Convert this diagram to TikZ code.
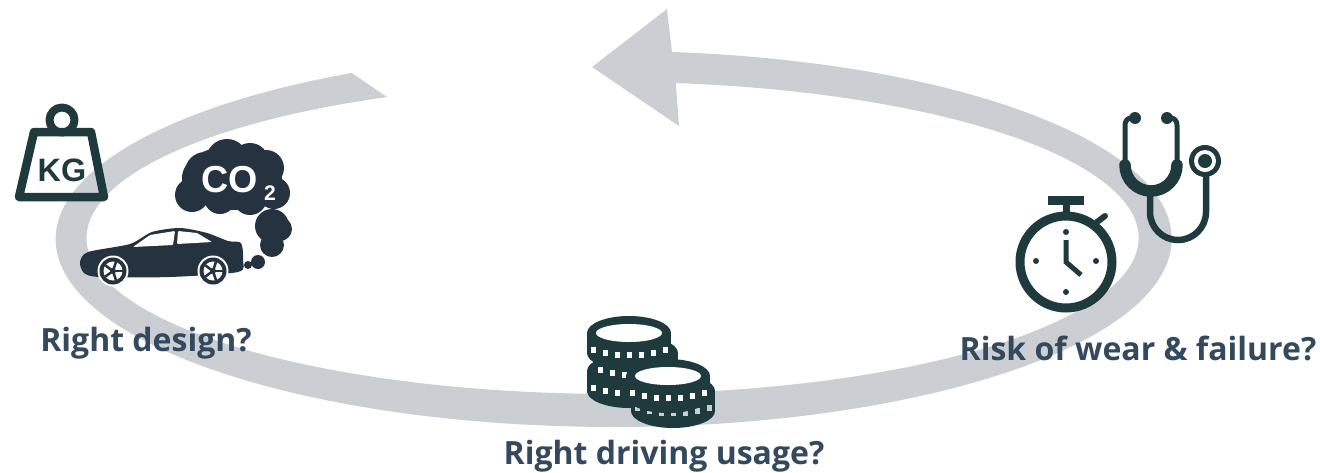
\documentclass[tikz,border=0pt]{standalone}
\usepackage{fontspec}
\setmainfont{Open Sans}
\newfontfamily\iconfont{Liberation Sans}
\definecolor{ringgray}{HTML}{CBCFD4}
\definecolor{icondark}{HTML}{1F3A3D}
\definecolor{cardark}{HTML}{25323F}
\definecolor{labelblue}{HTML}{34495E}
\begin{document}
\begin{tikzpicture}[x=0.01cm, y=-0.01cm,
    label/.style={text=labelblue, font=\fontsize{9.1}{11}\selectfont\bfseries, inner sep=0pt},
    iconline/.style={draw=icondark, line width=#1, line cap=round, line join=round},
    spoke/.style={draw=cardark, line width=0.025cm},
  ]
  \useasboundingbox (0,0) rectangle (1320,472);
  \fill[ringgray] (672,52) arc[start angle=-84, end angle=242, x radius=558, y radius=188]
    -- (387,97) arc[start angle=244.6, end angle=-83.1, x radius=526, y radius=156]
    -- (679,126) -- (592,67) -- (667,9) -- cycle;

  \draw[iconline=0.085cm] (34,132) -- (91,132) -- (104,197) -- (19,197) -- cycle;
  \draw[iconline=0.08cm] (62,120) circle[radius=12.5];
  \node[font=\iconfont\fontsize{9.2}{10}\selectfont\bfseries, text=icondark, inner sep=0pt] (kg) at (62,170) {KG};

  \fill[cardark] (232,178) ellipse[x radius=50, y radius=32]
    (192,195) circle[radius=17] (205,172) circle[radius=20] (227,160) circle[radius=21]
    (250,162) circle[radius=19] (266,168) circle[radius=18] (274,193) circle[radius=16]
    (250,198) circle[radius=17] (220,198) circle[radius=16];
  \node[font=\iconfont\fontsize{10.7}{12}\selectfont\bfseries, text=white, inner sep=0pt] (co) at (230,180) {CO};
  \node[font=\iconfont\fontsize{6}{7}\selectfont\bfseries, text=white, inner sep=0pt] (two) at (270,193) {2};

  \fill[cardark] (272,226) circle[radius=17] (280,229) circle[radius=12] (272,245) circle[radius=12]
    (258,262) circle[radius=7] (248,265) circle[radius=4];
  \fill[cardark] plot[smooth cycle, tension=0.45] coordinates {(80,262) (88,252) (130,244) (152,232)
    (180,228) (207,233) (228,241) (241,243) (243,260) (238,272) (170,277) (100,277) (84,273)};
  \fill[white, rounded corners=0.01cm] (133,247) -- (150,235) -- (175,231) -- (173,245) -- cycle;
  \fill[white, rounded corners=0.01cm] (177,244) -- (178,231) -- (197,233) -- (212,242) -- cycle;
  \foreach \wx in {113,213} {
    \fill[white] (\wx,271) circle[radius=15.5];
    \fill[cardark] (\wx,271) circle[radius=13.5];
    \fill[white] (\wx,271) circle[radius=9.5];
    \foreach \wa in {0,72,...,288}
      \draw[spoke] (\wx,271) -- ++(\wa:9.5);
    \fill[cardark] (\wx,271) circle[radius=3];
  }

  \draw[iconline=0.09cm] (1066,262) circle[radius=46];
  \fill[icondark] (1048,196) rectangle (1084,205);
  \fill[icondark] (1062.5,205) rectangle (1069.5,212);
  \draw[iconline=0.06cm] (1097,222) -- (1105,216);
  \draw[draw=icondark, line width=0.05cm] (1066,240) -- (1066,262) -- (1081,275);
  \fill[icondark] (1066,232) circle[radius=3] (1066,292) circle[radius=3]
    (1036,261) circle[radius=3] (1096,261) circle[radius=3];

  \draw[iconline=0.05cm] (1135,118) -- (1131,118) to[out=180, in=90] (1125,125) -- (1125,165);
  \draw[iconline=0.05cm] (1167,118) -- (1171,118) to[out=0, in=90] (1177,125) -- (1177,165);
  \fill[icondark] (1135,118) circle[radius=6] (1167,118) circle[radius=6];
  \draw[iconline=0.115cm] (1125,165) arc[start angle=180, end angle=0, x radius=26, y radius=26];
  \draw[draw=icondark, line width=0.065cm] (1150,190) -- (1150,212)
    arc[start angle=180, end angle=0, x radius=28, y radius=28] -- (1206,165);
  \fill[icondark] (1205,161) circle[radius=16];
  \fill[white] (1205,161) circle[radius=11];
  \fill[icondark] (1205,161) circle[radius=7];

  \foreach \cx/\cy/\notch in {629/371/white, 636/353/white, 629/333/white, 673/391/ringgray, 668/376/white} {
    \fill[icondark] (\cx-42,\cy) rectangle (\cx+42,\cy+20);
    \fill[icondark] (\cx,\cy+20) ellipse[x radius=42, y radius=17];
    \fill[icondark] (\cx,\cy) ellipse[x radius=42, y radius=17];
    \fill[white] (\cx,\cy) ellipse[x radius=33, y radius=9];
    \foreach \dx in {-36,-24,...,36}
      \fill[\notch] ({\cx+\dx-2.5},{\cy+8+11*sqrt(1-(\dx/42)^2)}) rectangle ++(5,6);
  }

  \node[label] (design) at (146,343) {Right design?};
  \node[label] (wear) at (1138,348) {Risk of wear \& failure?};
  \node[label] (usage) at (664,456) {Right driving usage?};
\end{tikzpicture}
\end{document}
